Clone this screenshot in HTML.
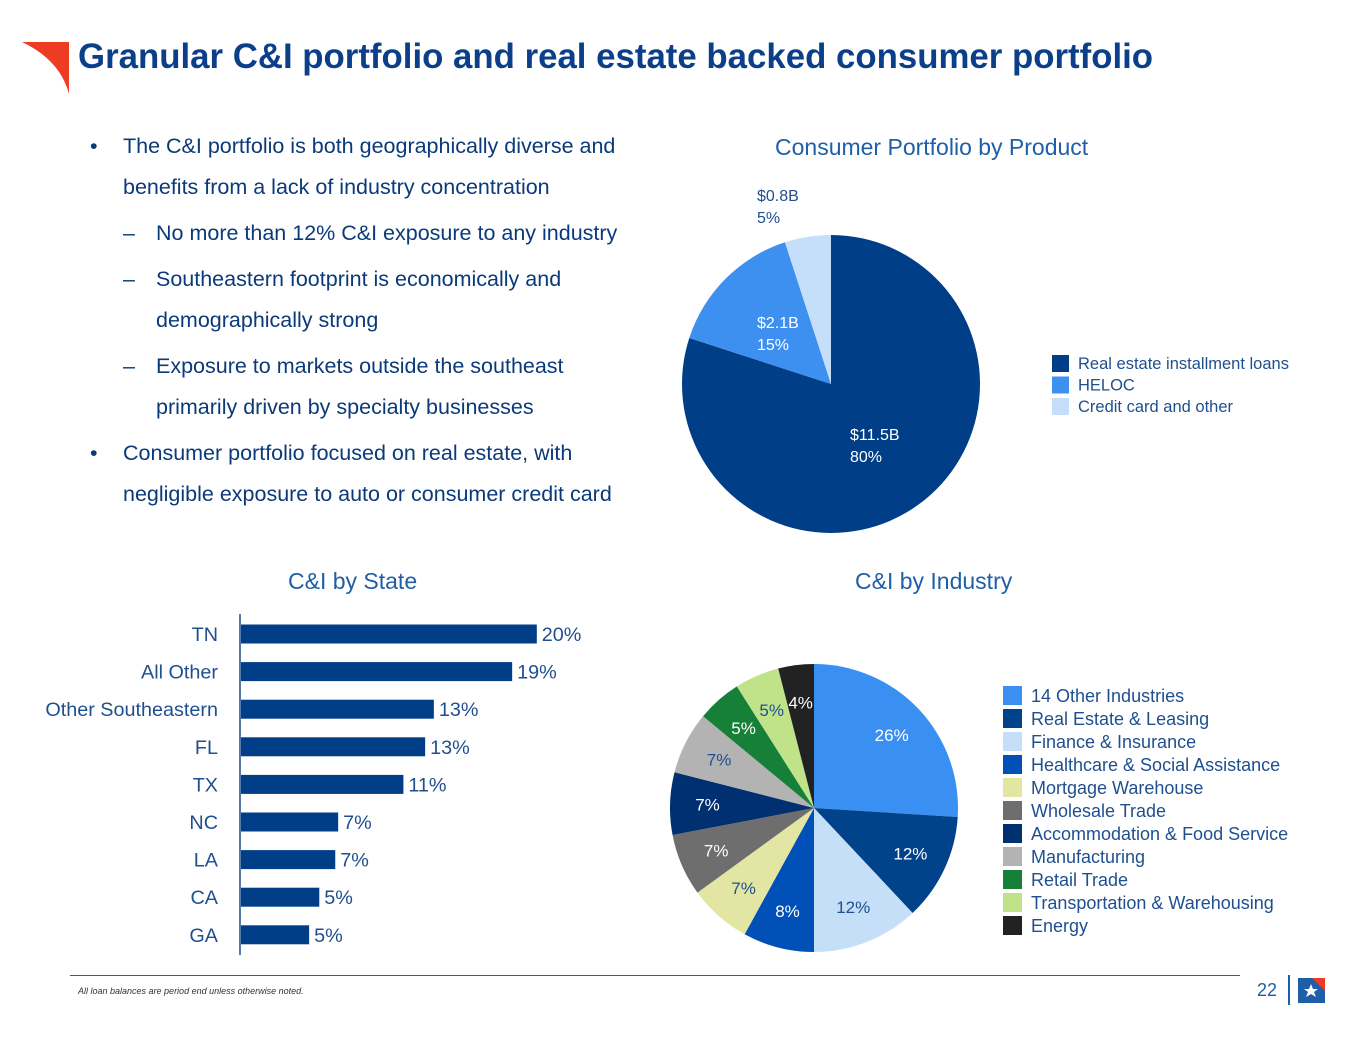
<!DOCTYPE html>
<html><head><meta charset="utf-8"><style>
body{margin:0;width:1365px;height:1040px;background:#fff;font-family:"Liberation Sans",sans-serif;position:relative;overflow:hidden}
.t{position:absolute;white-space:nowrap}
.bul{position:absolute;font-size:21.5px;color:#0b3a7a}
</style></head><body>
<svg style="position:absolute;left:20px;top:40px" width="52" height="56"><path d="M2 2 L49 2 L49 54 Q40 20 2 2Z" fill="#ee3b23"/></svg>
<div class="t" style="left:78px;top:37px;font-size:34.8px;font-weight:bold;color:#0b3f8a">Granular C&amp;I portfolio and real estate backed consumer portfolio</div>

<div>
<div class="bul" style="left:90px;top:134px">•</div>
<div class="bul" style="left:123px;top:134px">The C&amp;I portfolio is both geographically diverse and</div>
<div class="bul" style="left:123px;top:175px">benefits from a lack of industry concentration</div>
<div class="bul" style="left:123px;top:221px">–</div>
<div class="bul" style="left:156px;top:221px">No more than 12% C&amp;I exposure to any industry</div>
<div class="bul" style="left:123px;top:267px">–</div>
<div class="bul" style="left:156px;top:267px">Southeastern footprint is economically and</div>
<div class="bul" style="left:156px;top:308px">demographically strong</div>
<div class="bul" style="left:123px;top:354px">–</div>
<div class="bul" style="left:156px;top:354px">Exposure to markets outside the southeast</div>
<div class="bul" style="left:156px;top:395px">primarily driven by specialty businesses</div>
<div class="bul" style="left:90px;top:441px">•</div>
<div class="bul" style="left:123px;top:441px">Consumer portfolio focused on real estate, with</div>
<div class="bul" style="left:123px;top:482px">negligible exposure to auto or consumer credit card</div>
</div>

<div class="t" style="left:775px;top:134px;font-size:23px;color:#1f5fa8">Consumer Portfolio by Product</div>
<div class="t" style="left:288px;top:568px;font-size:23px;color:#1f5fa8">C&amp;I by State</div>
<div class="t" style="left:855px;top:568px;font-size:23px;color:#1f5fa8">C&amp;I by Industry</div>

<svg id="chart" style="position:absolute;left:0;top:0" width="1365" height="1040"></svg>

<div style="position:absolute;left:70px;top:975px;width:1170px;height:1px;background:#1f5fa8"></div>
<div class="t" style="left:78px;top:986px;font-size:9px;font-style:italic;color:#333">All loan balances are period end unless otherwise noted.</div>
<div class="t" style="left:1257px;top:980px;font-size:18px;color:#1f5fa8">22</div>
<div style="position:absolute;left:1288px;top:975px;width:2px;height:30px;background:#1f5fa8"></div>
<svg style="position:absolute;left:1298px;top:978px" width="28" height="26"><rect width="27" height="25" fill="#1f5fa8"/><path d="M14 0 L27 0 L27 13Z" fill="#ee3b23"/><polygon points="13,6 15,11 20,11 16,14 18,19 13,16 8,19 10,14 6,11 11,11" fill="#fff"/></svg>

<script>
const NS='http://www.w3.org/2000/svg';
const svg=document.getElementById('chart');
function mk(t,a){const e=document.createElementNS(NS,t);for(const k in a)e.setAttribute(k,a[k]);svg.appendChild(e);return e;}

// Consumer pie
const consCats=['Real estate installment loans','HELOC','Credit card and other'];
const consVals=[80,15,5];
const consAmts=['$11.5B','$2.1B','$0.8B'];
const consColors=['#003f87','#3d8ff0','#c5dffb'];
// Industry pie
const indCats=['14 Other Industries','Real Estate & Leasing','Finance & Insurance','Healthcare & Social Assistance','Mortgage Warehouse','Wholesale Trade','Accommodation & Food Service','Manufacturing','Retail Trade','Transportation & Warehousing','Energy'];
const indVals=[26,12,12,8,7,7,7,7,5,5,4];
const indColors=['#3a8ff2','#00438a','#c5dff9','#0050b8','#e3e6a3','#6e6e6e','#003070','#b3b3b3','#168038','#c0e38a','#222222'];
const indLabelColors=['#fff','#fff','#1f4f8f','#fff','#1f4f8f','#fff','#fff','#1f4f8f','#fff','#1f4f8f','#fff'];
// State bars
const states=['TN','All Other','Other Southeastern','FL','TX','NC','LA','CA','GA'];
const stateVals=[20.4,18.7,13.3,12.7,11.2,6.7,6.5,5.4,4.7];
const stateLabels=['20%','19%','13%','13%','11%','7%','7%','5%','5%'];

function pie(vals,colors,cx,cy,r,name){
  const tot=vals.reduce((a,b)=>a+b,0);let a0=0;const mids=[];
  vals.forEach((v,i)=>{
    const a1=a0+v/tot*2*Math.PI;
    const x0=cx+r*Math.sin(a0),y0=cy-r*Math.cos(a0),x1=cx+r*Math.sin(a1),y1=cy-r*Math.cos(a1);
    const p=mk('path',{d:`M${cx} ${cy}L${x0} ${y0}A${r} ${r} 0 ${a1-a0>Math.PI?1:0} 1 ${x1} ${y1}Z`,fill:colors[i]});
    
    
    mids.push((a0+a1)/2);a0=a1;
  });
  return mids;
}
function txt(x,y,s,o){const t=mk('text',Object.assign({x:x,y:y,'font-size':15,fill:'#1f4f8f','font-family':'Liberation Sans, sans-serif'},o||{}));t.textContent=s;return t;}

// consumer
const cm=pie(consVals,consColors,831,384,149,'consumer');
const cpos=[[850,440,'#fff'],[757,328,'#fff'],[757,201,'#1f4f8f']];
consVals.forEach((v,i)=>{
  const t1=txt(cpos[i][0],cpos[i][1],consAmts[i],{fill:cpos[i][2],'font-size':16});
  
  
  const t2=txt(cpos[i][0],cpos[i][1]+22,v+'%',{fill:cpos[i][2],'font-size':16});
  
  
});
consCats.forEach((c,i)=>{
  const r=mk('rect',{x:1052,y:355+i*21.5,width:17,height:17,fill:consColors[i]});
  
  
  const t=txt(1078,369+i*21.5,c,{'font-size':16.5});
  
  
});

// industry
const cx=814,cy=808,R=144;
const im=pie(indVals,indColors,cx,cy,R,'industry');
indVals.forEach((v,i)=>{
  const rr=R*0.74;
  const t=txt(cx+rr*Math.sin(im[i]),cy-rr*Math.cos(im[i])+6,v+'%',{'text-anchor':'middle',fill:indLabelColors[i],'font-size':17});
  
  
});
indCats.forEach((c,i)=>{
  const r=mk('rect',{x:1003,y:686+i*23,width:19,height:19,fill:indColors[i]});
  
  
  const t=txt(1031,702+i*23,c,{'font-size':18});
  
  
});

// bars
const x0=240,sc=14.5,yTop=634,step=37.6,bh=19;
const ax=mk('line',{x1:x0,y1:614,x2:x0,y2:955,stroke:'#1f4f8f','stroke-width':1.5});


states.forEach((s,i)=>{
  const y=yTop+i*step;
  const b=mk('rect',{x:x0+1,y:y-bh/2,width:stateVals[i]*sc,height:bh,fill:'#003f87'});
  
  
  const l=txt(218,y+7,s,{'text-anchor':'end','font-size':19.8});
  
  
  const v=txt(x0+stateVals[i]*sc+6,y+7,stateLabels[i],{'font-size':19.8});
  
  
});
</script>
</body></html>
